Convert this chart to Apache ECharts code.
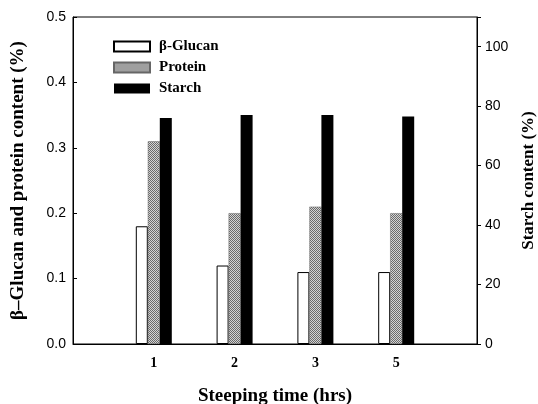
<!DOCTYPE html>
<html>
<head>
<meta charset="utf-8">
<title></title>
<script src="https://cdn.jsdelivr.net/npm/echarts@6/dist/echarts.min.js"></script>
<style>
    html, body { margin: 0; padding: 0; background: #fff; }
    #main { width: 538px; height: 404px; }
</style>
</head>
<body>
<div id="main"></div>
<script type="text/javascript">
    // data
    var times = ['', '1', '2', '3', '5', ''];
    var glucan = [null, 0.18, 0.12, 0.11, 0.11, null];
    var protein = [null, 0.31, 0.20, 0.21, 0.20, null];
    var starch = [null, 76, 77, 77, 76.5, null];

    // speckled grey fill for protein
    var pat = document.createElement('canvas');
    pat.width = 2;
    pat.height = 2;
    var pc = pat.getContext('2d');
    pc.fillStyle = '#d4d4d4';
    pc.fillRect(0, 0, 2, 2);
    pc.fillStyle = '#6a6a6a';
    pc.fillRect(0, 0, 1, 1);
    pc.fillRect(1, 1, 1, 1);

    var serif = 'Liberation Serif';
    var sans = 'Liberation Sans';

    var myChart = echarts.init(document.getElementById('main'));

    var option = {
        backgroundColor: '#fff',
        animation: false,
        grid: {
            left: 73,
            right: 61,
            top: 17,
            bottom: 60,
            outerBoundsMode: 'none',
            show: true,
            borderColor: '#000',
            borderWidth: 1
        },
        legend: {
            left: 113,
            top: 39,
            padding: 0,
            orient: 'vertical',
            icon: 'rect',
            itemWidth: 36,
            itemHeight: 10,
            itemGap: 6,
            textStyle: {
                fontFamily: serif,
                fontWeight: 'bold',
                fontSize: 15,
                color: '#000',
                padding: [0, 0, 0, 4]
            },
            data: ['β-Glucan', 'Protein', 'Starch']
        },
        xAxis: {
            type: 'category',
            data: times,
            boundaryGap: false,
            axisLine: { lineStyle: { color: '#000' } },
            axisTick: { show: false },
            axisLabel: {
                margin: 12,
                fontFamily: serif,
                fontWeight: 'bold',
                fontSize: 14,
                color: '#000'
            },
            name: 'Steeping time (hrs)',
            nameLocation: 'middle',
            nameGap: 43,
            nameTextStyle: {
                fontFamily: serif,
                fontWeight: 'bold',
                fontSize: 19,
                color: '#000'
            }
        },
        yAxis: [
            {
                type: 'value',
                min: 0,
                max: 0.5,
                interval: 0.1,
                axisLine: { show: true, lineStyle: { color: '#000' } },
                axisTick: { show: true, inside: true, length: 4, lineStyle: { color: '#000' } },
                splitLine: { show: false },
                axisLabel: {
                    fontFamily: sans,
                    fontSize: 14,
                    color: '#000',
                    margin: 7,
                    formatter: function (v) { return v.toFixed(1); }
                },
                name: 'β–Glucan and protein content (%)',
                nameLocation: 'middle',
                nameGap: 45,
                nameTextStyle: {
                    fontFamily: serif,
                    fontWeight: 'bold',
                    fontSize: 19,
                    color: '#000'
                }
            },
            {
                type: 'value',
                min: 0,
                max: 110,
                interval: 20,
                position: 'right',
                axisLine: { show: true, lineStyle: { color: '#000' } },
                axisTick: { show: true, length: 4, lineStyle: { color: '#000' } },
                splitLine: { show: false },
                axisLabel: {
                    fontFamily: sans,
                    fontSize: 14,
                    color: '#000',
                    margin: 8,
                    formatter: function (v) { return v > 100 ? '' : v; }
                },
                name: 'Starch content (%)',
                nameLocation: 'middle',
                nameGap: 43,
                nameTextStyle: {
                    fontFamily: serif,
                    fontWeight: 'bold',
                    fontSize: 17,
                    color: '#000'
                }
            }
        ],
        series: [
            {
                name: 'β-Glucan',
                type: 'bar',
                barWidth: 12,
                barGap: '0%',
                data: glucan,
                itemStyle: { color: '#fff', borderColor: '#000', borderWidth: 1 }
            },
            {
                name: 'Protein',
                type: 'bar',
                barWidth: 12,
                barGap: '0%',
                data: protein,
                itemStyle: { color: { image: pat, repeat: 'repeat' }, borderColor: '#666', borderWidth: 0.5 }
            },
            {
                name: 'Starch',
                type: 'bar',
                yAxisIndex: 1,
                barWidth: 12,
                barGap: '0%',
                data: starch,
                itemStyle: { color: '#000' }
            }
        ]
    };

    myChart.setOption(option);
</script>
</body>
</html>
